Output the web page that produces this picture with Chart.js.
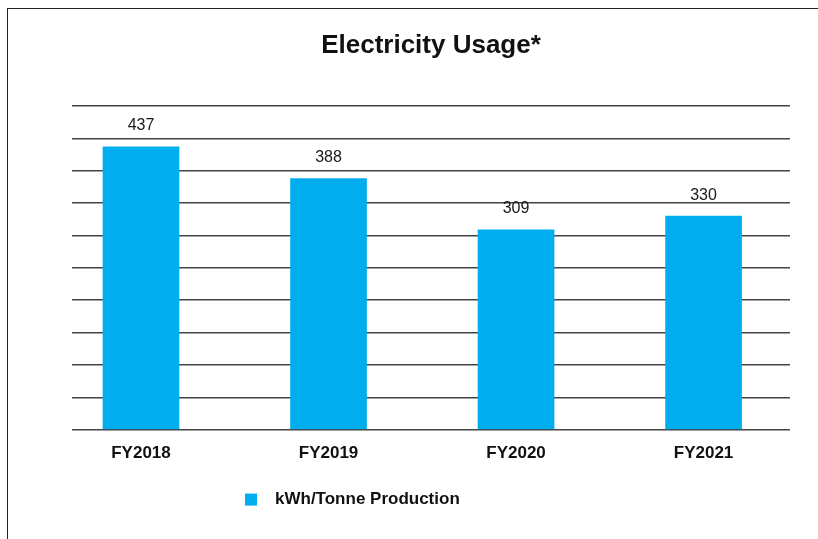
<!DOCTYPE html>
<html>
<head>
<meta charset="utf-8">
<script src="https://cdn.jsdelivr.net/npm/chart.js@4"></script>
<style>
  html, body { margin: 0; padding: 0; background: #fff; }
  #wrap { position: relative; width: 818px; height: 539px; }
  #frame { position: absolute; left: 7px; top: 8px; right: 0; bottom: 0; border-left: 1.5px solid #222; border-top: 1.5px solid #222; pointer-events: none; }
  canvas { position: absolute; left: 0; top: 0; }
</style>
</head>
<body>
<div id="wrap">
  <canvas id="c" width="818" height="539"></canvas>
  <div id="frame"></div>
</div>
<script>
const categories = ['FY2018', 'FY2019', 'FY2020', 'FY2021'];
const usageValues = [437, 388, 309, 330];
const seriesName = 'kWh/Tonne Production';
const chartTitle = 'Electricity Usage*';

const FONT = '"Liberation Sans", Arial, Helvetica, sans-serif';
const BAR_COLOR = '#00adee';

const valueLabels = {
  id: 'valueLabels',
  afterDatasetsDraw(chart) {
    const ctx = chart.ctx;
    const meta = chart.getDatasetMeta(0);
    ctx.save();
    ctx.font = '16px ' + FONT;
    ctx.fillStyle = '#1a1a1a';
    ctx.textAlign = 'center';
    ctx.textBaseline = 'middle';
    meta.data.forEach((bar, i) => {
      ctx.fillText(String(usageValues[i]), bar.x, bar.y - 21);
    });
    ctx.restore();
  }
};

const customLegend = {
  id: 'customLegend',
  afterDraw(chart) {
    const ctx = chart.ctx;
    const a = chart.chartArea;
    const bx = a.left + 173;
    const cy = a.bottom + 70;
    ctx.save();
    ctx.fillStyle = BAR_COLOR;
    ctx.fillRect(bx, cy - 6, 12, 12);
    ctx.font = 'bold 17px ' + FONT;
    ctx.fillStyle = '#111';
    ctx.textAlign = 'left';
    ctx.textBaseline = 'middle';
    ctx.fillText(seriesName, bx + 30, cy);
    ctx.restore();
  }
};

new Chart(document.getElementById('c'), {
  type: 'bar',
  data: {
    datasets: [{
      label: seriesName,
      data: usageValues.map((v, i) => ({ x: i, y: v })),
      backgroundColor: BAR_COLOR,
      barThickness: 76,
      borderWidth: 0
    }]
  },
  options: {
    responsive: false,
    animation: false,
    devicePixelRatio: 1,
    layout: { padding: { left: 72, right: 28, top: 0, bottom: 61 } },
    plugins: {
      legend: { display: false },
      tooltip: { enabled: false },
      title: {
        display: true,
        text: chartTitle,
        color: '#111',
        font: { family: FONT, size: 26, weight: 'bold' },
        padding: { top: 30, bottom: 45 }
      }
    },
    scales: {
      x: {
        type: 'linear',
        offset: false,
        min: -0.368,
        max: 3.461,
        grid: { display: false, drawTicks: false, offset: false },
        border: { display: false },
        afterBuildTicks: (s) => { s.ticks = categories.map((c, i) => ({ value: i })); },
        ticks: {
          autoSkip: false,
          maxRotation: 0,
          padding: 14,
          color: '#111',
          font: { family: FONT, size: 17, weight: 'bold' },
          callback: (v) => categories[v] ?? ''
        }
      },
      y: {
        min: 0,
        max: 500,
        ticks: { display: false, stepSize: 50 },
        grid: { color: '#444', lineWidth: 1.5, drawTicks: false },
        border: { display: false }
      }
    }
  },
  plugins: [valueLabels, customLegend]
});
</script>
</body>
</html>
